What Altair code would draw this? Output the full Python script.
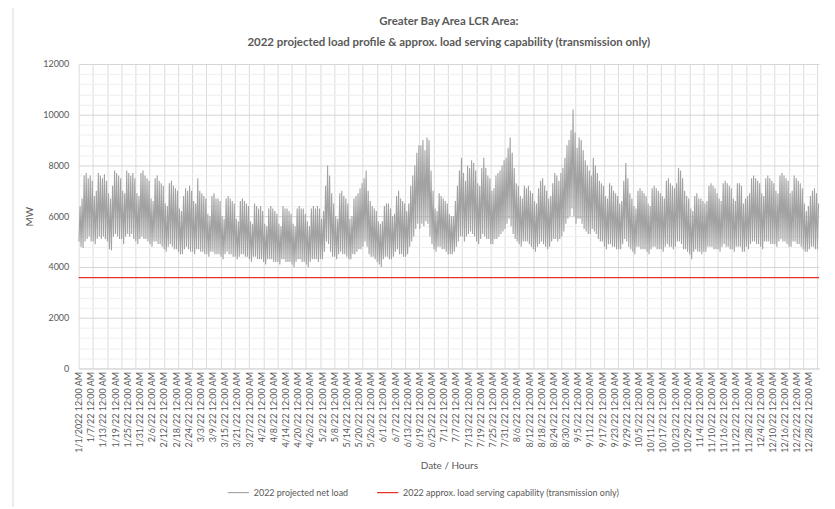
import json
import altair as alt
import pandas as pd

# ---- values (MW) ----
# Daily peak of the 2022 projected net load, Jan 1 .. Dec 31 (weeks start on Saturday)
daily_peak = [
    6400, 6700, 7600, 7700, 7500, 7600, 7400,
    6800, 7000, 7700, 7600, 7500, 7650, 7400,
    6900, 6700, 7200, 7800, 7700, 7600, 7500,
    7000, 6900, 7800, 7700, 7600, 7700, 7500,
    6900, 6800, 7700, 7800, 7600, 7500, 7400,
    6700, 6600, 7500, 7600, 7400, 7300, 7200,
    6500, 6400, 7300, 7400, 7200, 7100, 7000,
    6300, 6200, 6800, 7100, 7000, 7200, 7000,
    6600, 6500, 7500, 7000, 6900, 6800, 6700,
    6100, 6000, 6800, 6900, 6700, 6700, 6600,
    6000, 5900, 6700, 6800, 6700, 6600, 6500,
    5900, 5800, 6600, 6700, 6600, 6500, 6400,
    5800, 5700, 6500, 6400, 6300, 6400, 6200,
    5700, 5600, 6300, 6400, 6300, 6200, 6100,
    5700, 5600, 6400, 6300, 6300, 6200, 6100,
    5700, 5600, 6300, 6400, 6300, 6300, 6100,
    5800, 5600, 6300, 6400, 6300, 6400, 6300,
    5900, 6200, 7200, 8000, 7600, 6900, 6500,
    6000, 5900, 6900, 7000, 6800, 6700, 6500,
    5900, 6000, 6700, 6800, 6900, 7100, 7300,
    7500, 7800, 7000, 6600, 6400, 6300, 6200,
    5800, 5700, 5800, 6400, 6500, 6500, 6300,
    6000, 6100, 6800, 7000, 6700, 6600, 6500,
    6200, 6500, 7200, 7600, 8000, 8500, 8800,
    8800, 9000, 8600, 9100, 9000, 7800, 7000,
    6300, 6200, 6900, 6800, 6700, 6600, 6500,
    6100, 6000, 6000, 6600, 7200, 7800, 8300,
    7700, 7400, 8000, 7900, 8200, 8100, 7800,
    7300, 7200, 7900, 8300, 7900, 7600, 7500,
    7000, 7100, 7600, 7700, 7800, 8000, 8200,
    8300, 8700, 9100, 8500, 7900, 7300, 7200,
    6800, 6700, 7200, 7100, 7200, 7000, 6900,
    6600, 6500, 7100, 7400, 7500, 7200, 7000,
    6700, 6800, 7300, 7700, 7600, 7400, 7700,
    7900, 8300, 8800, 9000, 9400, 10200, 9300,
    8700, 9100, 9000, 8600, 8200, 8000, 7800,
    7600, 8300, 8000, 7700, 7400, 7300, 7200,
    6800, 6700, 7300, 7200, 7000, 6900, 6800,
    6500, 6600, 7400, 8100, 7500, 6900, 6700,
    6400, 6300, 7000, 7100, 7000, 6900, 6800,
    6500, 6400, 7100, 7200, 7100, 7000, 6900,
    6800, 6700, 7400, 7500, 7300, 7200, 7100,
    7300, 7900, 7800, 7500, 7000, 6800, 6700,
    6300, 6200, 6800, 6900, 6700, 6700, 6600,
    6500, 6600, 7200, 7300, 7200, 7100, 6900,
    6700, 6600, 7300, 7400, 7300, 7200, 7100,
    6700, 6600, 7300, 7300, 7200, 6500, 6700,
    6800, 6900, 7500, 7600, 7500, 7400, 7300,
    6900, 6800, 7500, 7600, 7500, 7400, 7300,
    7000, 6900, 7600, 7700, 7600, 7500, 7400,
    6900, 7000, 7600, 7500, 7400, 7300, 7100,
    6500, 6200, 6400, 6800, 7000, 7100, 6900,
    6500,
]

# Daily minimum of the 2022 projected net load
daily_min = [
    5000, 4800, 4750, 5000, 5100, 5200, 5000,
    5000, 4900, 5100, 5200, 5100, 5200, 5100,
    5000, 4700, 4650, 5200, 5300, 5200, 5100,
    5100, 4900, 5200, 5300, 5200, 5300, 5100,
    5000, 4900, 5100, 5200, 5100, 5100, 5000,
    4900, 4800, 5000, 5000, 4900, 4900, 4800,
    4700, 4600, 4800, 4900, 4800, 4700, 4700,
    4600, 4500, 4500, 4700, 4800, 4700, 4600,
    4600, 4500, 4700, 4700, 4600, 4600, 4500,
    4500, 4400, 4600, 4600, 4500, 4500, 4500,
    4400, 4300, 4500, 4600, 4500, 4500, 4400,
    4400, 4300, 4400, 4500, 4500, 4400, 4400,
    4300, 4200, 4400, 4400, 4300, 4300, 4300,
    4200, 4100, 4300, 4300, 4300, 4200, 4200,
    4200, 4100, 4300, 4300, 4200, 4200, 4200,
    4100, 4000, 4200, 4300, 4300, 4200, 4200,
    4100, 4000, 4200, 4300, 4300, 4300, 4200,
    4300, 4300, 4600, 5000, 4900, 4600, 4400,
    4400, 4300, 4500, 4600, 4500, 4500, 4400,
    4300, 4300, 4500, 4500, 4600, 4700, 4700,
    4800, 5000, 4800, 4500, 4400, 4400, 4300,
    4200, 4100, 4000, 4300, 4400, 4400, 4300,
    4300, 4400, 4600, 4700, 4500, 4500, 4400,
    4400, 4500, 4800, 5000, 5200, 5500, 5700,
    5500, 5700, 5600, 5800, 5700, 5200, 4900,
    4700, 4600, 4800, 4800, 4700, 4700, 4600,
    4500, 4500, 4500, 4600, 4800, 5000, 5200,
    5200, 5000, 5200, 5300, 5400, 5300, 5200,
    5000, 4900, 5100, 5300, 5200, 5100, 5100,
    4900, 4900, 5100, 5100, 5200, 5300, 5400,
    5500, 5700, 5900, 5600, 5300, 5100, 5000,
    4900, 4800, 5000, 5000, 5000, 4900, 4800,
    4700, 4600, 4800, 4900, 5000, 4900, 4800,
    4700, 4800, 5000, 5100, 5100, 5000, 5100,
    5200, 5400, 5700, 5900, 6000, 6300, 6000,
    5700, 5900, 5900, 5700, 5500, 5400, 5300,
    5300, 5500, 5400, 5300, 5100, 5000, 5000,
    4800, 4700, 4900, 4900, 4800, 4800, 4700,
    4700, 4700, 4900, 5100, 5000, 4800, 4700,
    4600, 4500, 4800, 4800, 4700, 4700, 4700,
    4600, 4500, 4700, 4800, 4800, 4700, 4700,
    4700, 4600, 4800, 4900, 4800, 4800, 4700,
    4800, 5000, 5000, 4900, 4700, 4700, 4600,
    4500, 4300, 4600, 4700, 4600, 4600, 4500,
    4600, 4600, 4800, 4800, 4800, 4700, 4700,
    4700, 4600, 4800, 4900, 4800, 4800, 4700,
    4700, 4600, 4800, 4800, 4800, 4600, 4600,
    4800, 4700, 4900, 5000, 5000, 4900, 4900,
    4800, 4700, 5000, 5000, 5000, 4900, 4900,
    4900, 4800, 5000, 5100, 5000, 5000, 4900,
    4800, 4800, 5000, 5000, 4900, 4900, 4800,
    4700, 4600, 4600, 4700, 4800, 4800, 4700,
    4700,
]

capability_mw = 3580

x_labels = [
    "1/1/2022 12:00 AM", "1/7/22 12:00 AM", "1/13/22 12:00 AM", "1/19/22 12:00 AM",
    "1/25/22 12:00 AM", "1/31/22 12:00 AM", "2/6/22 12:00 AM", "2/12/22 12:00 AM",
    "2/18/22 12:00 AM", "2/24/22 12:00 AM", "3/3/22 12:00 AM", "3/9/22 12:00 AM",
    "3/15/22 12:00 AM", "3/21/22 12:00 AM", "3/27/22 12:00 AM", "4/2/22 12:00 AM",
    "4/8/22 12:00 AM", "4/14/22 12:00 AM", "4/20/22 12:00 AM", "4/26/22 12:00 AM",
    "5/2/22 12:00 AM", "5/8/22 12:00 AM", "5/14/22 12:00 AM", "5/20/22 12:00 AM",
    "5/26/22 12:00 AM", "6/1/22 12:00 AM", "6/7/22 12:00 AM", "6/13/22 12:00 AM",
    "6/19/22 12:00 AM", "6/25/22 12:00 AM", "7/1/22 12:00 AM", "7/7/22 12:00 AM",
    "7/13/22 12:00 AM", "7/19/22 12:00 AM", "7/25/22 12:00 AM", "7/31/22 12:00 AM",
    "8/6/22 12:00 AM", "8/12/22 12:00 AM", "8/18/22 12:00 AM", "8/24/22 12:00 AM",
    "8/30/22 12:00 AM", "9/5/22 12:00 AM", "9/11/22 12:00 AM", "9/17/22 12:00 AM",
    "9/23/22 12:00 AM", "9/29/22 12:00 AM", "10/5/22 12:00 AM", "10/11/22 12:00 AM",
    "10/17/22 12:00 AM", "10/23/22 12:00 AM", "10/29/22 12:00 AM", "11/4/22 12:00 AM",
    "11/10/22 12:00 AM", "11/16/22 12:00 AM", "11/22/22 12:00 AM", "11/28/22 12:00 AM",
    "12/4/22 12:00 AM", "12/10/22 12:00 AM", "12/16/22 12:00 AM", "12/22/22 12:00 AM",
    "12/28/22 12:00 AM",
]

LOAD = "2022 projected net load"
CAP = "2022 approx. load serving  capability (transmission only)"

HOURS = 8760
LABEL_STEP = 144   # hours between category labels
GRID_STEP = 168    # hours between vertical gridlines

rows = []
for d in range(len(daily_peak)):
    rows.append({"hour": d * 24 + 4, "mw": daily_min[d], "series": LOAD})
    rows.append({"hour": d * 24 + 17, "mw": daily_peak[d], "series": LOAD})
rows.append({"hour": 0, "mw": capability_mw, "series": CAP})
rows.append({"hour": HOURS - 1, "mw": capability_mw, "series": CAP})
df = pd.DataFrame(rows)

tick_vals = sorted(set(range(0, HOURS, LABEL_STEP)) | set(range(0, HOURS, GRID_STEP)))
label_expr = (
    f"datum.value % {LABEL_STEP} === 0 ? "
    + json.dumps(x_labels)
    + f"[round(datum.value / {LABEL_STEP})] : ''"
)

FONT = "Lato"
TXT = "#595959"

x_axis = alt.Axis(
    values=tick_vals,
    labelExpr=label_expr,
    labelAngle=270,
    labelFontSize=9,
    labelColor=TXT,
    labelPadding=3,
    labelOverlap=False,
    labelFlush=False,
    ticks=False,
    domain=True,
    domainColor="#d9d9d9",
    grid=True,
    gridColor="#dcdcdc",
    gridOpacity={"condition": {"test": f"datum.value % {GRID_STEP} === 0", "value": 1}, "value": 0},
    title="Date / Hours",
    titleFontSize=10,
    titleFontWeight="normal",
    titleColor=TXT,
    titlePadding=8,
)

y_axis = alt.Axis(
    values=list(range(0, 12001, 400)),
    labelExpr="datum.value % 2000 === 0 ? datum.value : ''",
    labelFontSize=9,
    labelColor=TXT,
    labelPadding=10,
    ticks=False,
    domain=False,
    grid=True,
    gridColor={"condition": {"test": "datum.value % 2000 === 0", "value": "#d4d4d4"}, "value": "#efefef"},
    title="MW",
    titleFontSize=10,
    titleFontWeight="normal",
    titleColor=TXT,
    titlePadding=8,
)

lines = (
    alt.Chart(df)
    .mark_line()
    .encode(
        x=alt.X("hour:Q", axis=x_axis, scale=alt.Scale(domain=[0, HOURS - 1], nice=False, zero=False)),
        y=alt.Y("mw:Q", axis=y_axis, scale=alt.Scale(domain=[0, 12000], nice=False)),
        color=alt.Color(
            "series:N",
            sort=[LOAD, CAP],
            scale=alt.Scale(domain=[LOAD, CAP], range=["#a2a2a2", "#e8302a"]),
            legend=alt.Legend(
                title=None,
                orient="none",
                direction="horizontal",
                legendX=149,
                legendY=419,
                symbolType="stroke",
                symbolSize=450,
                symbolStrokeWidth=1.5,
                labelFontSize=9,
                labelColor=TXT,
                labelFont=FONT,
                labelLimit=500,
                columnPadding=26,
            ),
        ),
        strokeWidth=alt.StrokeWidth("series:N", scale=alt.Scale(domain=[LOAD, CAP], range=[1.1, 1.25]), legend=None),
    )
)

# light chart-area frame (decoration, as in the spreadsheet chart)
frame = (
    alt.Chart(pd.DataFrame({"frame": [0]}))
    .mark_rect(fill="#ffffff", fillOpacity=0, stroke="#d9d9d9", strokeWidth=1)
    .encode(x=alt.value(-66), x2=alt.value(770), y=alt.value(-60), y2=alt.value(480))
)

chart = (
    alt.layer(frame, lines)
    .properties(
        width=744,
        height=306,
        autosize=alt.AutoSizeParams(type="none"),
        padding={"left": 71, "top": 55, "right": 8, "bottom": 138},
        title=alt.TitleParams(
            text=["Greater Bay Area LCR Area:", "2022 projected load profile & approx. load serving capability (transmission only)"],
            font=FONT,
            fontSize=11.5,
            fontWeight="bold",
            color=TXT,
            anchor="middle",
            frame="group",
            lineHeight=21,
            offset=15,
            dy=60,
        ),
    )
    .configure(font=FONT)
    .configure_view(stroke=None)
)

chart.save("out.html", embed_options={"renderer": "svg", "actions": False})
